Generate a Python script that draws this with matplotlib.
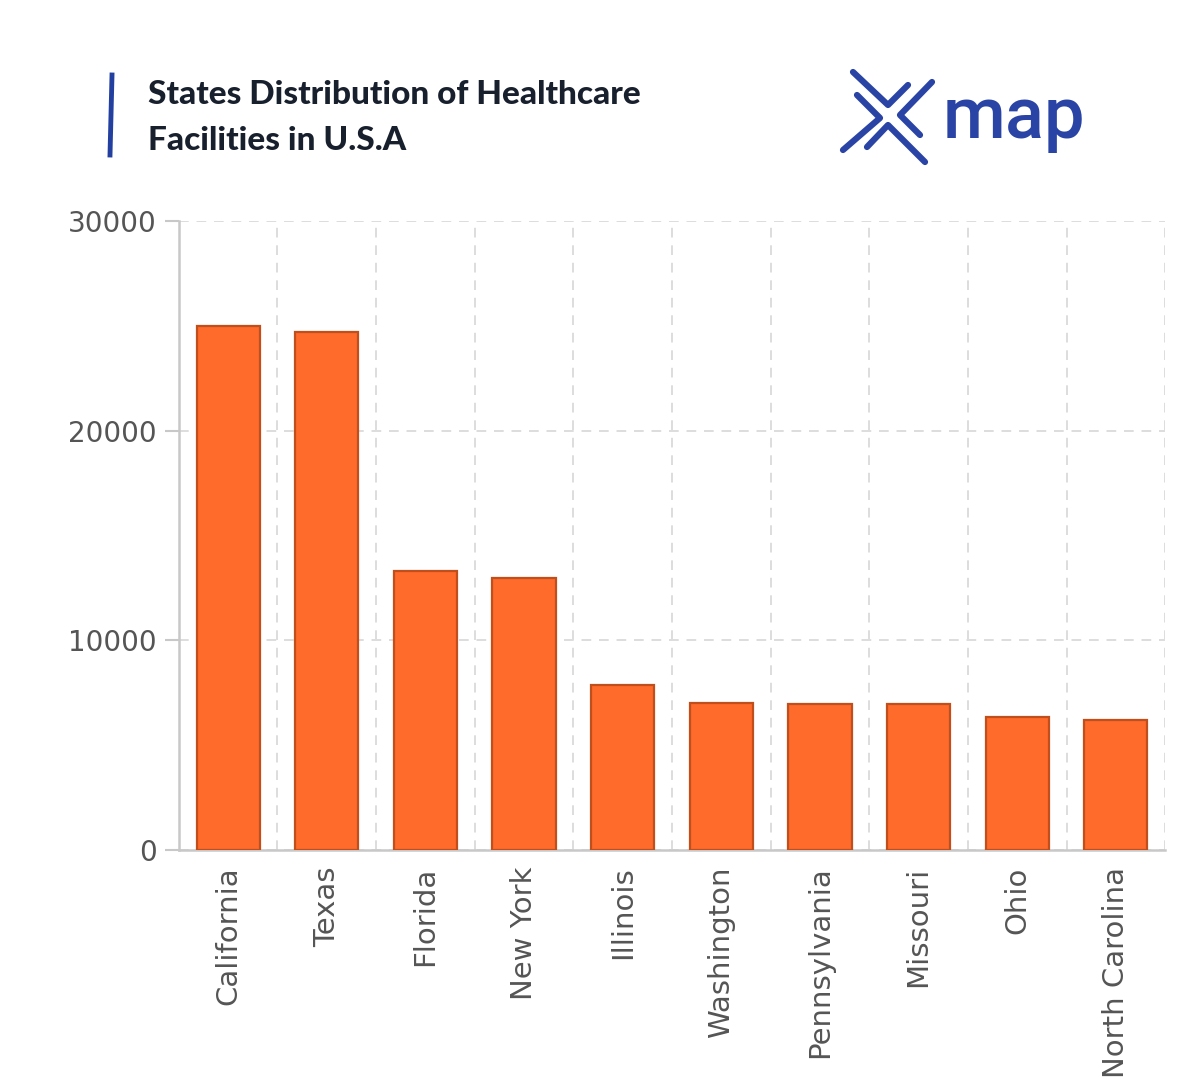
import matplotlib.pyplot as plt
import numpy as np
from matplotlib.lines import Line2D

states = ["California", "Texas", "Florida", "New York", "Illinois",
          "Washington", "Pennsylvania", "Missouri", "Ohio", "North Carolina"]
facilities = [25000, 24700, 13300, 13000, 7870, 7010, 6960, 6960, 6340, 6200]
yticks = [0, 10000, 20000, 30000]

fig = plt.figure(figsize=(12, 10.8), dpi=100)
ax = fig.add_axes([0.149, 0.213, 0.822, 0.582])

x = np.arange(len(states))
ax.bar(x, facilities, width=0.64, color="#ff6b2b", edgecolor="#c04f1c",
       linewidth=1.6, zorder=3)

ax.set_xlim(-0.5, len(states) - 0.5)
ax.set_ylim(0, 30000)
ax.set_yticks(yticks)
ax.set_yticklabels([str(v) for v in yticks])
ax.set_xticks(x)
ax.set_xticklabels(states, rotation=90)
ax.set_xticks(np.arange(0.5, len(states), 1), minor=True)

ax.tick_params(axis="y", length=10, width=1.5, color="#c8c8c8",
               labelsize=20, labelcolor="#555555", pad=6)
ax.tick_params(axis="x", which="both", length=0, labelsize=21,
               labelcolor="#555555", pad=12)

ax.grid(axis="y", which="major", color="#dddddd", linestyle=(0, (5, 4)),
        linewidth=1.4, zorder=0)
ax.grid(axis="x", which="minor", color="#dddddd", linestyle=(0, (5, 4)),
        linewidth=1.4, zorder=0)
ax.grid(axis="x", which="major", visible=False)

for s in ["top", "right"]:
    ax.spines[s].set_visible(False)
for s in ["left", "bottom"]:
    ax.spines[s].set_color("#c8c8c8")
    ax.spines[s].set_linewidth(1.8)

# title with accent bar
fig.add_artist(Line2D([112 / 1200, 110 / 1200], [1 - 75 / 1080, 1 - 155 / 1080],
                      color="#2340a0", linewidth=3.5))
fig.text(148 / 1200, 1 - 94 / 1080, "States Distribution of Healthcare",
         fontsize=24, fontweight=900, family="Lato", color="#18202e",
         va="center", ha="left")
fig.text(148 / 1200, 1 - 140 / 1080, "Facilities in U.S.A",
         fontsize=24, fontweight=900, family="Lato", color="#18202e",
         va="center", ha="left")

# xmap logo
blue = "#2a44a6"
chevrons = [
    [(853, 72), (888, 105), (908, 85)],
    [(932, 82), (900, 115), (920, 135)],
    [(867, 147), (888, 125), (925, 162)],
    [(857, 95), (880, 118), (843, 150)],
]
for pts in chevrons:
    xs = [p[0] / 1200 for p in pts]
    ys = [1 - p[1] / 1080 for p in pts]
    fig.add_artist(Line2D(xs, ys, color=blue, linewidth=4.5,
                          solid_capstyle="round", solid_joinstyle="round"))
fig.text(943 / 1200, 1 - 138 / 1080, "map", fontsize=52, family="Roboto",
         fontweight="medium", color=blue, va="baseline", ha="left")

fig.savefig("out.png", dpi=100, facecolor="white")
